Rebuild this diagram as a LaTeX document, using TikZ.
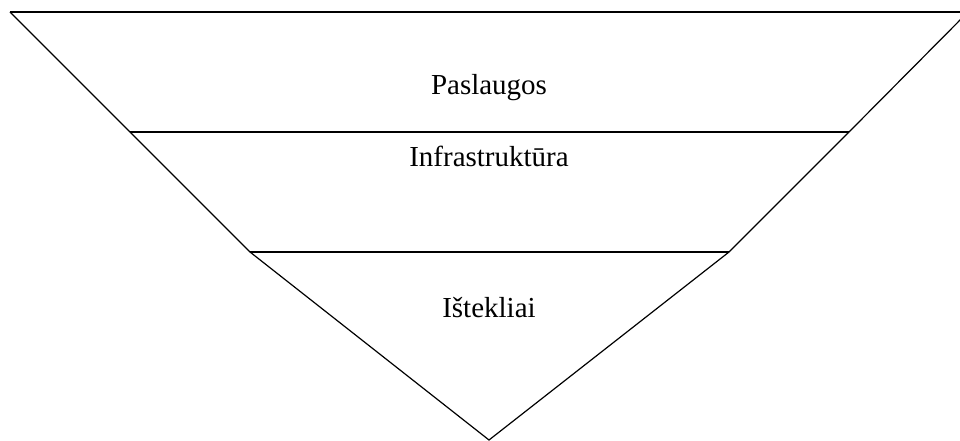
\documentclass[tikz,border=0pt]{standalone}
\usepackage{fontspec}
\setmainfont{Liberation Serif}
\usepackage{tikz}
\usetikzlibrary{positioning}
\tikzset{
    layer/.style={font=\fontsize{29}{35}\selectfont, anchor=base, inner sep=0pt},
    edge/.style={line width=1.2pt, line join=miter}
}

\begin{document}
\begin{tikzpicture}[x=1pt, y=-1pt]
            \clip (0,0) rectangle (960,441);
            \useasboundingbox (0,0) rectangle (960,441);
            % corners of the funnel
            \coordinate (topleft) at (10,12);
            \coordinate (topright) at (968,12);
            \coordinate (left1) at (130,132);
            \coordinate (right1) at (849,132);
            \coordinate (left2) at (250,252);
            \coordinate (right2) at (729,252);
            \coordinate (apex) at (489,440);

            \draw[edge] (topleft) -- (topright);
            \draw[edge] (topleft) -- (left1) -- (left2) -- (apex) -- (right2) -- (right1) -- (topright);
            \draw[edge] (left1) -- (right1);
            \draw[edge] (left2) -- (right2);

            % layer labels
            \node[layer] (services) at (489,95) {Paslaugos};
            \node[layer] (infra) at (489,166) {Infrastruktūra};
            \node[layer] (resources) at (489,317) {Ištekliai};
        \end{tikzpicture}
\end{document}
